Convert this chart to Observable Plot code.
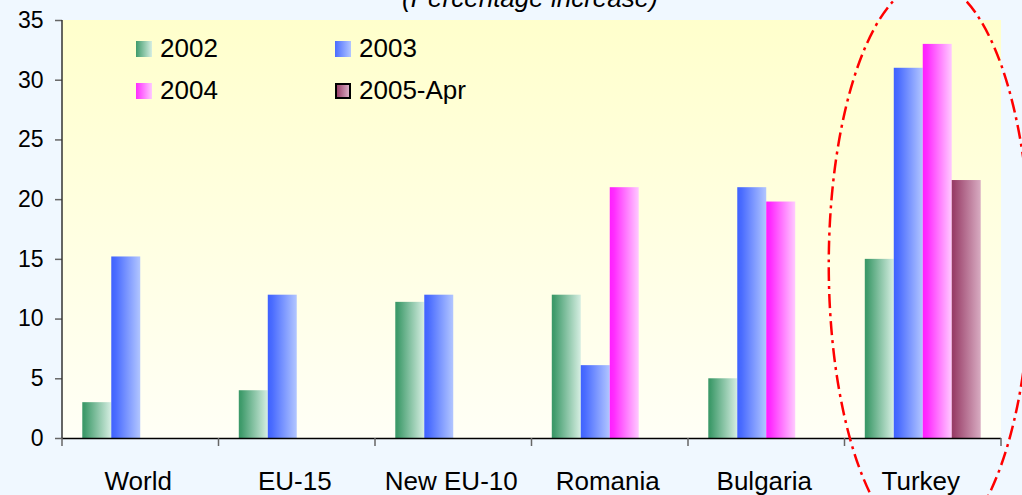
<!DOCTYPE html>
<html><head><meta charset="utf-8">
<script src="https://cdn.jsdelivr.net/npm/d3@7"></script>
<script src="https://cdn.jsdelivr.net/npm/@observablehq/plot@0.6"></script>
<style>
body{margin:0;background:#f0f8ff;font-family:"Liberation Sans",Arial,sans-serif;}
#wrap{position:relative;width:1022px;height:495px;overflow:hidden;}
#chart svg{display:block;overflow:visible;}
#title{position:absolute;left:0;width:1060px;text-align:center;top:-15px;font-style:italic;font-size:26px;line-height:26px;color:#000;}
.leg{position:absolute;font-size:26px;line-height:26px;color:#000;white-space:nowrap;}
.sw{position:absolute;width:16px;height:16px;box-sizing:border-box;}
</style></head><body>
<svg width="0" height="0" style="position:absolute">
<defs>
<linearGradient id="g0" x1="0" x2="1" y1="0" y2="0"><stop offset="0" stop-color="#3a9868"/><stop offset="0.08" stop-color="#3f9b6b"/><stop offset="1" stop-color="#d6eee2"/></linearGradient>
<linearGradient id="g1" x1="0" x2="1" y1="0" y2="0"><stop offset="0" stop-color="#3f62ff"/><stop offset="0.15" stop-color="#4a6cff"/><stop offset="1" stop-color="#b2c6ff"/></linearGradient>
<linearGradient id="g2" x1="0" x2="1" y1="0" y2="0"><stop offset="0" stop-color="#ff1eff"/><stop offset="0.15" stop-color="#ff2cff"/><stop offset="1" stop-color="#ffcaff"/></linearGradient>
<linearGradient id="g3" x1="0" x2="1" y1="0" y2="0"><stop offset="0" stop-color="#963a66"/><stop offset="0.08" stop-color="#9a406a"/><stop offset="1" stop-color="#d8acc2"/></linearGradient>
<linearGradient id="bg" x1="0" x2="0" y1="0" y2="1"><stop offset="0" stop-color="#ffffcc"/><stop offset="1" stop-color="#fffff6"/></linearGradient>
</defs></svg>
<div id="wrap">
<div id="chart"></div>
<div id="title">(Percentage increase)</div>
<div id="legend"></div>
</div>
<script>
const categories = ["World", "EU-15", "New EU-10", "Romania", "Bulgaria", "Turkey"];
const series = ["2002", "2003", "2004", "2005-Apr"];
const v2002 = [3, 4, 11.4, 12, 5, 15];
const v2003 = [15.2, 12, 12, 6.1, 21, 31];
const v2004 = [null, null, null, 21, 19.8, 33];
const v2005Apr = [null, null, null, null, null, 21.6];
const yTicks = [0, 5, 10, 15, 20, 25, 30, 35];
const gradients = ["url(#g0)", "url(#g1)", "url(#g2)", "url(#g3)"];

const seriesValues = [v2002, v2003, v2004, v2005Apr];
const rows = [];
categories.forEach((c, i) => {
  series.forEach((s, j) => {
    const v = seriesValues[j][i];
    if (v != null) rows.push({cat: c, series: s, value: v});
  });
});

const plot = Plot.plot({
  width: 1022,
  height: 495,
  marginTop: 20,
  marginBottom: 57,
  marginLeft: 62,
  marginRight: 21,
  style: {background: "transparent", fontFamily: "Liberation Sans, Arial, sans-serif", color: "#000", overflow: "visible"},
  fx: {domain: categories, padding: 0, label: null, round: false, axis: null},
  x: {domain: series, paddingInner: 0, paddingOuter: 0.7, axis: null, round: false},
  y: {domain: [0, 35], label: null},
  color: {type: "ordinal", domain: series, range: gradients},
  marks: [
    Plot.barY(rows, {fx: "cat", x: "series", y: "value", fill: "series", inset: 0}),
    Plot.ruleY([0], {stroke: "#000", strokeWidth: 1.6}),
    Plot.axisY({ticks: yTicks, tickSize: 7, tickPadding: 12, fontSize: 23, label: null, stroke: "#666", strokeWidth: 1.5})
  ]
});
document.getElementById("chart").appendChild(plot);

const svg = d3.select(plot);
const fx = plot.scale("fx");
const y = plot.scale("y");
const [x0, x1] = fx.range;
const [yb, yt] = y.range;

// plot area background
const bgRect = document.createElementNS("http://www.w3.org/2000/svg", "rect");
bgRect.setAttribute("x", x0);
bgRect.setAttribute("y", Math.min(yb, yt));
bgRect.setAttribute("width", x1 - x0);
bgRect.setAttribute("height", Math.abs(yb - yt));
bgRect.setAttribute("fill", "url(#bg)");
const st = plot.querySelector("style");
plot.insertBefore(bgRect, st ? st.nextSibling : plot.firstChild);

// y axis line
svg.append("line").attr("x1", x0).attr("x2", x0).attr("y1", yt).attr("y2", yb)
  .attr("stroke", "#333").attr("stroke-width", 1.5);

// category boundary ticks
const bounds = categories.map(c => fx.apply(c)).concat([x1]);
svg.append("g").selectAll("line").data(bounds).join("line")
  .attr("x1", d => d).attr("x2", d => d).attr("y1", yb).attr("y2", yb + 8)
  .attr("stroke", "#666").attr("stroke-width", 1.5);

// category labels, positioned from the fx scale
svg.append("g").attr("font-size", 26).attr("text-anchor", "middle").attr("fill", "#000")
  .selectAll("text").data(categories).join("text")
  .attr("x", d => fx.apply(d) + fx.bandwidth / 2 - 2)
  .attr("y", yb + 52)
  .text(d => d);

// annotation ellipse around Turkey
const tc = fx.apply("Turkey") + fx.bandwidth / 2;
svg.append("ellipse").attr("cx", tc + 7).attr("cy", 265).attr("rx", 101).attr("ry", 283)
  .attr("fill", "none").attr("stroke", "#ff0000").attr("stroke-width", 2.5)
  .attr("stroke-dasharray", "14 5 3 5");

// legend
const legend = document.getElementById("legend");
const legPos = [[136, 41], [335, 41], [136, 83], [335, 83]];
const swatchCss = [
  "linear-gradient(to right,#3f9b6b,#d6eee2)",
  "linear-gradient(to right,#4a6cff,#b2c6ff)",
  "linear-gradient(to right,#ff2cff,#ffcaff)",
  "linear-gradient(to right,#9a406a,#d8acc2)"
];
series.forEach((s, i) => {
  const [lx, ly] = legPos[i];
  const sw = document.createElement("div");
  sw.className = "sw";
  sw.style.left = lx + "px";
  sw.style.top = ly + "px";
  sw.style.background = swatchCss[i];
  if (i === 3) sw.style.border = "2px solid #000";
  legend.appendChild(sw);
  const t = document.createElement("div");
  t.className = "leg";
  t.style.left = (lx + 24) + "px";
  t.style.top = (ly - 6) + "px";
  t.textContent = s;
  legend.appendChild(t);
});
</script>
</body></html>
